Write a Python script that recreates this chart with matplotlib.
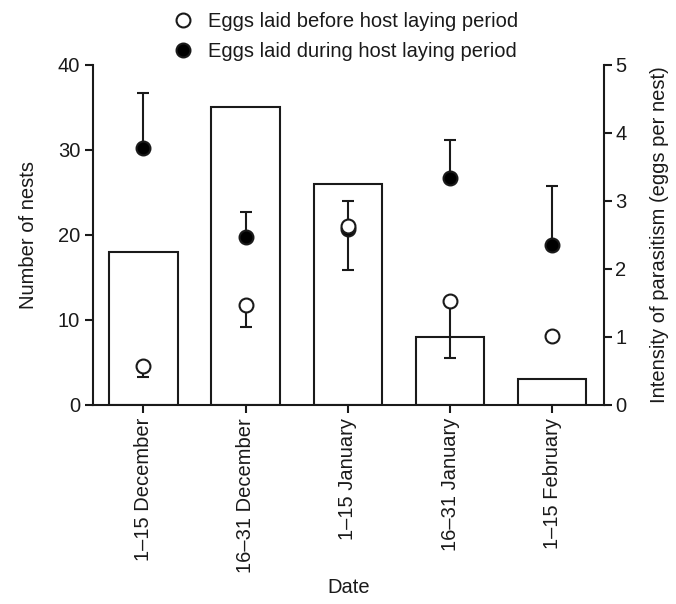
import numpy as np
import matplotlib.pyplot as plt

plt.rcParams['font.family'] = ['Liberation Sans', 'DejaVu Sans']

## data
dates = ['1\u201315 December', '16\u201331 December', '1\u201315 January',
         '16\u201331 January', '1\u201315 February']
nests = [18, 35, 26, 8, 3]
# intensity of parasitism (eggs per nest)
before_mean = [0.57, 1.47, 2.63, 1.53, 1.01]
before_err = [0.17, 0.33, 0.65, 0.85, 0.0]
during_mean = [3.77, 2.47, 2.59, 3.34, 2.35]
during_err = [0.81, 0.36, 0.41, 0.55, 0.86]

ink = '#1a1a1a'
fs = 14.5
x = np.arange(len(dates))

fig = plt.figure(figsize=(6.76, 6.04), dpi=100)
ax = fig.add_axes([0.138, 0.330, 0.756, 0.563])

## bars: number of nests
ax.bar(x, nests, width=0.67, facecolor='white', edgecolor=ink, linewidth=1.5, zorder=1)
ax.set_xlim(-0.49, 4.51)
ax.set_ylim(0, 40)
ax.set_yticks([0, 10, 20, 30, 40])
ax.set_xticks(x)
ax.set_xticklabels(dates, rotation=90)
ax.set_ylabel('Number of nests', fontsize=fs, color=ink, labelpad=14)
ax.set_xlabel('Date', fontsize=fs, color=ink, labelpad=4)
ax.spines['top'].set_visible(False)
ax.spines['right'].set_visible(False)
for s in ['left', 'bottom']:
    ax.spines[s].set_linewidth(1.5)
    ax.spines[s].set_color(ink)
ax.tick_params(axis='both', labelsize=fs, colors=ink, width=1.5, length=6)

## right axis: intensity of parasitism
ax2 = ax.twinx()
ax2.set_ylim(0, 5)
ax2.set_yticks([0, 1, 2, 3, 4, 5])
ax2.spines['top'].set_visible(False)
ax2.spines['left'].set_visible(False)
ax2.spines['bottom'].set_visible(False)
ax2.spines['right'].set_linewidth(1.5)
ax2.spines['right'].set_color(ink)
ax2.tick_params(axis='y', labelsize=fs, colors=ink, width=1.5, length=6, pad=2)
ax2.set_ylabel('Intensity of parasitism (eggs per nest)', fontsize=fs, color=ink, labelpad=17)

# one-sided error bars: during -> up, before -> down
zeros = np.zeros(len(x))
ax2.errorbar(x, during_mean, yerr=[zeros, during_err], fmt='none', ecolor=ink,
             elinewidth=1.5, capsize=4, capthick=1.5, zorder=3)
ax2.errorbar(x, before_mean, yerr=[before_err, zeros], fmt='none', ecolor=ink,
             elinewidth=1.5, capsize=4, capthick=1.5, zorder=3)
ax2.plot(x, during_mean, 'o', ms=10, mfc='black', mec=ink, mew=1.5, ls='none', zorder=4,
         label='Eggs laid during host laying period')
ax2.plot(x, before_mean, 'o', ms=10, mfc='white', mec=ink, mew=1.5, ls='none', zorder=5,
         label='Eggs laid before host laying period')

## legend at the top
h, l = ax2.get_legend_handles_labels()
fig.legend(h[::-1], l[::-1], loc='upper left', bbox_to_anchor=(0.238, 1.0), frameon=False,
           fontsize=fs, labelcolor=ink, handletextpad=0.75, labelspacing=0.55,
           handlelength=1.0, borderaxespad=0.2)

plt.savefig('out.png', dpi=100)
